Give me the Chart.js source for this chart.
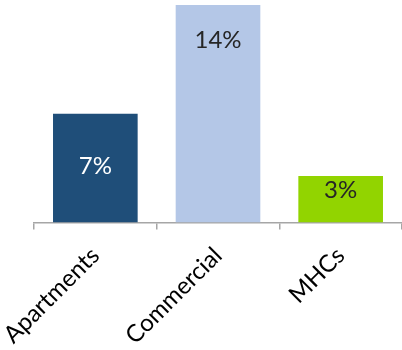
<!DOCTYPE html>
<html>
<head>
<meta charset="utf-8">
<script src="https://cdn.jsdelivr.net/npm/chart.js@4"></script>
<style>
  html, body { margin: 0; padding: 0; background: #fff; }
  #wrap { width: 402px; height: 350px; }
</style>
</head>
<body>
<div id="wrap"><canvas id="myChart" width="402" height="350"></canvas></div>
<script>
const categories = ["Apartments", "Commercial", "MHCs"];
const shareValues = [7, 14, 3];
const barColors = ["#1f4e79", "#b4c7e7", "#92d400"];

// value labels written inside each bar
const barLabels = {
  id: "barLabels",
  afterDatasetsDraw(chart, args, opts) {
    const ctx = chart.ctx;
    const meta = chart.getDatasetMeta(0);
    ctx.save();
    ctx.font = "24px Lato";
    ctx.textAlign = "center";
    ctx.textBaseline = "middle";
    meta.data.forEach((bar, i) => {
      const top = bar.y, bottom = bar.base;
      const y = top + (bottom - top) * opts.pos[i];
      ctx.fillStyle = opts.colors[i];
      ctx.fillText(shareValues[i] + "%", bar.x, y);
    });
    ctx.restore();
  }
};

new Chart("myChart", {
  type: "bar",
  data: {
    labels: categories,
    datasets: [{
      data: shareValues,
      backgroundColor: barColors,
      borderWidth: 0,
      barPercentage: 0.69,
      categoryPercentage: 1
    }]
  },
  plugins: [barLabels],
  options: {
    responsive: false,
    animation: false,
    layout: { padding: { top: 5, left: 34, right: 0, bottom: -12 } },
    plugins: {
      legend: { display: false },
      tooltip: { enabled: false },
      barLabels: {
        pos: [0.48, 0.16, 0.31],
        colors: ["#ffffff", "#262626", "#262626"]
      }
    },
    scales: {
      y: {
        display: false,
        min: 0,
        max: 14
      },
      x: {
        offset: true,
        afterFit(scale) {
          // let the first rotated label hang into the left margin
          scale.paddingLeft = 0;
          scale.paddingRight = 0;
        },
        border: { color: "#a6a6a6", width: 1.5 },
        grid: {
          offset: true,
          drawOnChartArea: false,
          drawTicks: true,
          tickLength: 7,
          color: "#a6a6a6",
          lineWidth: 1.5
        },
        ticks: {
          color: "#000",
          font: { family: "Lato", size: 24 },
          minRotation: 45,
          maxRotation: 45,
          padding: 12
        }
      }
    }
  }
});
</script>
</body>
</html>
